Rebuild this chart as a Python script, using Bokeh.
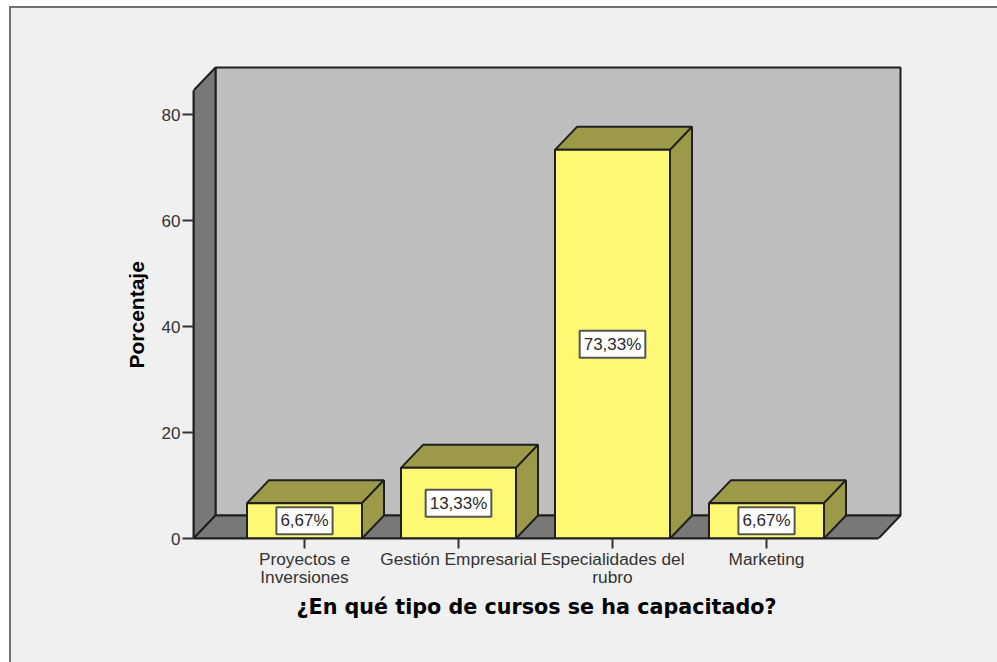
from bokeh.plotting import figure
from bokeh.embed import file_html
from bokeh.resources import INLINE
from bokeh.core.properties import value
from bokeh.models import FixedTicker, ColumnDataSource, Title

categories = ["Proyectos e\nInversiones", "Gestión Empresarial", "Especialidades del\nrubro", "Marketing"]
percent = [6.67, 13.33, 73.33, 6.67]
labels = ["6,67%", "13,33%", "73,33%", "6,67%"]
y_ticks = [0, 20, 40, 60, 80]

PXX = 154.0   # px per category
PXY = 5.3     # px per percent
DX = 22 / PXX
DY = 23 / PXY
HALF = 57.5 / PXX
X0 = -111.0 / PXX      # left of the floor (front)
X1 = 574.0 / PXX       # right of the floor (front)
YTOP = 448.0 / PXY     # height of the side wall (front)

WALL = "#bebebe"
SHADE = "#787878"
FRONT = "#fdf974"
SIDE = "#9c9a48"
EDGE = "#1f1f1f"
PANEL = "#f0f0f0"

p = figure(width=986, height=654, frame_width=710, frame_height=473,
           x_range=(X0, X0 + 710 / PXX), y_range=(0, 473 / PXY),
           min_border_left=182, min_border_top=57, min_border_right=94, min_border_bottom=124,
           output_backend="svg", toolbar_location=None, margin=(6, 0, 0, 9),
           border_fill_color=None, background_fill_color=None,
           styles={"border-left": "2px solid #707070", "border-top": "2px solid #707070",
                   "background-color": PANEL})
p.grid.visible = False
p.outline_line_color = None

# back wall, side wall, floor
p.patch([X0 + DX, X1 + DX, X1 + DX, X0 + DX], [DY, DY, YTOP + DY, YTOP + DY], fill_color=WALL, line_color=EDGE, line_width=2)
p.patch([X0, X0 + DX, X0 + DX, X0], [0, DY, YTOP + DY, YTOP], fill_color=SHADE, line_color=EDGE, line_width=2)
p.patch([X0, X1, X1 + DX, X0 + DX], [0, 0, DY, DY], fill_color=SHADE, line_color=EDGE, line_width=2)

for i, v in enumerate(percent):
    l, r = i - HALF, i + HALF
    p.patch([l, r, r + DX, l + DX], [v, v, v + DY, v + DY], fill_color=SIDE, line_color=EDGE, line_width=2)
    p.patch([r, r + DX, r + DX, r], [0, DY, v + DY, v], fill_color=SIDE, line_color=EDGE, line_width=2)
    p.patch([l, r, r, l], [0, 0, v, v], fill_color=FRONT, line_color=EDGE, line_width=2)

src = ColumnDataSource(dict(x=list(range(4)), y=[v / 2 for v in percent], t=labels))
p.text("x", "y", text="t", source=src, text_align="center", text_baseline="middle",
       text_font=value("Liberation Sans"), text_font_size="17px", text_color="#2a2a2a",
       background_fill_color="white", border_line_color="#555555", border_line_width=2, padding=4)

ax = p.yaxis[0]
ax.ticker = FixedTicker(ticks=y_ticks)
ax.bounds = (0, YTOP)
ax.axis_line_color = EDGE
ax.axis_line_width = 2
ax.major_tick_in = 0
ax.major_tick_out = 11
ax.major_tick_line_color = "#333333"
ax.major_tick_line_width = 2
ax.minor_tick_line_color = None
ax.major_label_text_font = "Liberation Sans"
ax.major_label_text_font_size = "17px"
ax.major_label_text_color = "#333333"
ax.major_label_standoff = 2

bx = p.xaxis[0]
bx.ticker = FixedTicker(ticks=[0, 1, 2, 3])
bx.major_label_overrides = {i: c for i, c in enumerate(categories)}
bx.bounds = (X0, X1)
bx.axis_line_color = EDGE
bx.axis_line_width = 2
bx.major_tick_in = 0
bx.major_tick_out = 10
bx.major_tick_line_color = "#333333"
bx.major_tick_line_width = 2
bx.minor_tick_line_color = None
bx.major_label_text_font = "Liberation Sans"
bx.major_label_text_font_size = "17.3px"
bx.major_label_text_line_height = 0.9
bx.major_label_text_color = "#333333"
bx.major_label_standoff = 0
bx.major_label_orientation = "horizontal"

p.add_layout(Title(text="¿En qué tipo de cursos se ha capacitado?", align="left", offset=103, standoff=7,
                   text_font="DejaVu Sans", text_font_style="bold", text_font_size="20.7px",
                   text_color="black"), "below")
p.add_layout(Title(text="Porcentaje", align="left", offset=170, standoff=22,
                   text_font="Liberation Sans", text_font_style="bold", text_font_size="21px",
                   text_color="black"), "left")

open("out.html", "w").write(file_html(p, INLINE))
